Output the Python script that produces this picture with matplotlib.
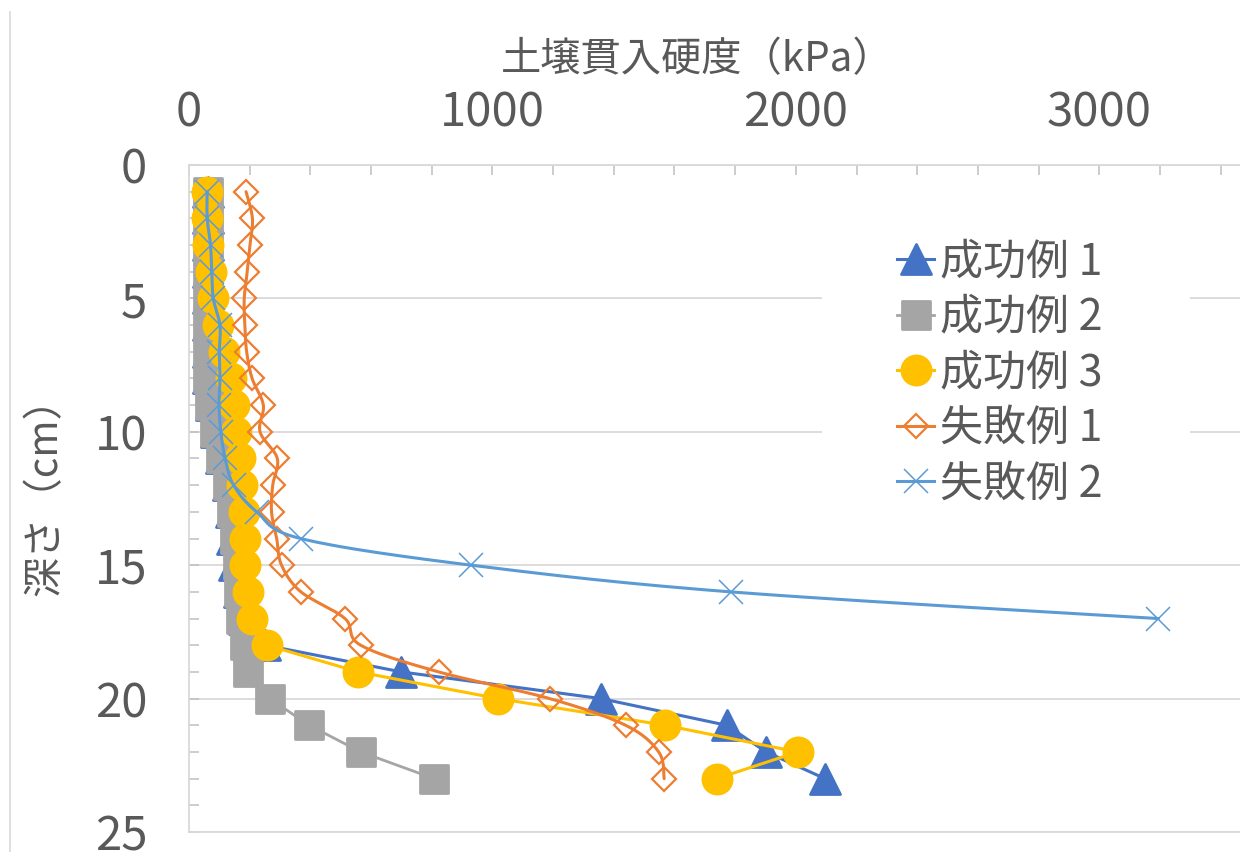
import numpy as np
import matplotlib
matplotlib.use("Agg")
import matplotlib.pyplot as plt
from matplotlib.markers import MarkerStyle
from matplotlib.lines import Line2D
from matplotlib.patches import Rectangle

plt.rcParams['font.family'] = ['Noto Sans CJK JP', 'DejaVu Sans']

# depth (cm) and penetration resistance (kPa)
depth = list(range(1, 24))
depth_f2 = list(range(1, 18))

success1 = [64, 64, 64, 64, 64, 64, 64, 64, 72, 88, 106, 128, 138, 143, 149, 164,
            182, 252, 700, 1358, 1772, 1902, 2096]
success2 = [61, 61, 61, 61, 61, 61, 61, 61, 69, 85, 104, 128, 142, 153, 160, 164,
            173, 186, 193, 266, 396, 566, 808]
success3 = [60, 60, 63, 71, 79, 94, 116, 137, 148, 156, 168, 176, 180, 184, 184, 193,
            209, 258, 558, 1019, 1570, 2006, 1739]
failure1 = [188, 209, 201, 192, 182, 184, 190, 208, 245, 234, 291, 276, 272, 289, 305,
            369, 514, 566, 823, 1189, 1439, 1548, 1566]
failure2 = [60, 60, 71, 75, 80, 102, 100, 102, 99, 105, 119, 147, 223, 368, 930, 1785, 3195]

labels = ['成功例 1', '成功例 2', '成功例 3', '失敗例 1', '失敗例 2']
colors = ['#4472C4', '#A5A5A5', '#FFC000', '#ED7D31', '#5B9BD5']

x_label = '土壌貫入硬度（kPa）'
y_label = '深さ（cm）'
x_ticks = [0, 1000, 2000, 3000]
y_ticks = [0, 5, 10, 15, 20, 25]

TEXT = '#595959'
GRID = '#D9D9D9'

W, H = 1240, 852
fig = plt.figure(figsize=(W / 100, H / 100), dpi=100)
ax_left, ax_right, ax_top, ax_bottom = 189, 1251, 165, 832
ax = fig.add_axes([ax_left / W, (H - ax_bottom) / H,
                   (ax_right - ax_left) / W, (ax_bottom - ax_top) / H])
ax.set_xlim(0, 3500)
ax.set_ylim(25, 0)


def smooth_curve(xs, ys, n=24):
    """Cubic Bezier smoothing through the points (computed in pixel space)."""
    sx = (ax_right - ax_left) / 3500.0
    sy = (ax_bottom - ax_top) / 25.0
    P = np.column_stack([np.asarray(xs, float) * sx, np.asarray(ys, float) * sy])
    Q = np.vstack([P[0], P, P[-1]])
    out = [P[0]]
    t = np.linspace(0, 1, n)[1:, None]
    for i in range(len(P) - 1):
        p0, p1, p2, p3 = Q[i], Q[i + 1], Q[i + 2], Q[i + 3]
        c1 = p1 + (p2 - p0) / 6.0
        c2 = p2 - (p3 - p1) / 6.0
        seg = ((1 - t) ** 3) * p1 + 3 * ((1 - t) ** 2) * t * c1 \
            + 3 * (1 - t) * t ** 2 * c2 + t ** 3 * p2
        out.extend(seg)
    out = np.array(out)
    return out[:, 0] / sx, out[:, 1] / sy


def rounded(m):
    return MarkerStyle(m, joinstyle='round')


series = [
    dict(x=success1, y=depth, marker=rounded('^'), ms=21, mew=2.0, mfc=colors[0],
         lw=2.2, smooth=False),
    dict(x=success2, y=depth, marker=rounded('s'), ms=20, mew=2.0, mfc=colors[1],
         lw=2.0, smooth=False),
    dict(x=success3, y=depth, marker='o', ms=23, mew=0.0, mfc=colors[2],
         lw=2.2, smooth=False),
    dict(x=failure1, y=depth, marker='D', ms=12.5, mew=1.6, mfc='none',
         lw=2.2, smooth=True),
    dict(x=failure2, y=depth_f2, marker='x', ms=17, mew=1.1, mfc=colors[4],
         lw=2.2, smooth=True),
]

handles = []
for i, (s, lab, c) in enumerate(zip(series, labels, colors)):
    z = 3 + i
    if s['smooth']:
        cx, cy = smooth_curve(s['x'], s['y'])
        ax.plot(cx, cy, color=c, lw=s['lw'], zorder=z, solid_capstyle='round')
    else:
        ax.plot(s['x'], s['y'], color=c, lw=s['lw'], zorder=z, solid_capstyle='round')
    ax.plot(s['x'], s['y'], ls='none', marker=s['marker'], ms=s['ms'],
            mec=c, mfc=s['mfc'], mew=s['mew'], zorder=z + 0.5, clip_on=False)
    handles.append(Line2D([], [], color=c, lw=s['lw'], marker=s['marker'], ms=s['ms'],
                          mec=c, mfc=s['mfc'], mew=s['mew']))

# axes styling
ax.xaxis.tick_top()
ax.xaxis.set_label_position('top')
ax.set_xticks(x_ticks)
ax.set_xticks(np.arange(0, 3501, 200), minor=True)
ax.set_yticks(y_ticks)
ax.set_yticks(np.arange(0, 26, 1), minor=True)
ax.tick_params(axis='both', which='both', direction='in', length=7.5, width=1.1,
               color='#BFBFBF', labelcolor=TEXT, labelsize=34)
ax.tick_params(axis='x', which='major', pad=20)
ax.tick_params(axis='y', which='major', pad=30)
ax.tick_params(axis='y', which='both', left=True, right=False)
ax.tick_params(axis='x', which='both', top=True, bottom=False)
for side in ['top', 'left', 'bottom']:
    ax.spines[side].set_color(GRID)
    ax.spines[side].set_linewidth(1.3)
ax.spines['right'].set_visible(False)
ax.set_axisbelow(True)
ax.yaxis.grid(True, which='major', color=GRID, lw=1.3)

ax.set_xlabel(x_label, fontsize=29, color=TEXT, va='center')
ax.xaxis.set_label_coords((697 - ax_left) / (ax_right - ax_left),
                          (ax_bottom - 60) / (ax_bottom - ax_top))
ax.set_ylabel(y_label, fontsize=29, color=TEXT, va='center')
ax.yaxis.set_label_coords((45 - ax_left) / (ax_right - ax_left),
                          (ax_bottom - 487) / (ax_bottom - ax_top))

leg = ax.legend(handles, labels, loc='upper left', frameon=False,
                bbox_to_anchor=(897 / W, 1 - 240 / H), bbox_transform=fig.transFigure,
                fontsize=31, handlelength=0.86, handletextpad=0.15,
                labelspacing=0.27, borderpad=0.0, borderaxespad=0.0)
for t in leg.get_texts():
    t.set_color(TEXT)
leg.set_zorder(20)

# white panel behind the legend, wider than its entries
fig.canvas.draw()
bb = leg.get_window_extent()
panel = Rectangle((822, bb.y0 - 8), 1190 - 822, bb.height + 16, transform=None,
                  facecolor='white', edgecolor='none', zorder=1)
ax.add_artist(panel)

# chart-area border on the left
fig.add_artist(Line2D([9.5 / W, 9.5 / W], [0, 1 - 12 / H], color=GRID, lw=1.2,
                      transform=fig.transFigure))

fig.savefig('out.png', dpi=100, facecolor='white')
